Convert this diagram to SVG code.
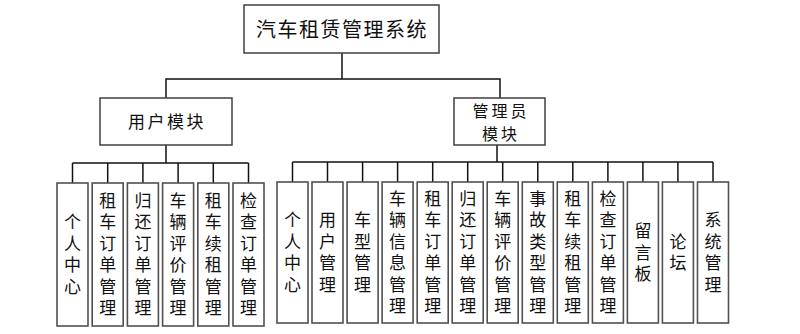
<svg xmlns="http://www.w3.org/2000/svg" width="800" height="334" viewBox="0 0 800 334">
<style>
.box{fill:#fff;stroke:#404040;stroke-width:1.5}
.leaf{fill:#fff;stroke:#505050;stroke-width:1.6}
.t{font-family:"Noto Sans CJK SC","Noto Sans CJK JP",sans-serif;font-size:17px;fill:#111;text-anchor:middle}
.v{writing-mode:vertical-rl;letter-spacing:4.5px}
.title{font-size:20px;letter-spacing:1.5px}
.mod{font-size:17px;letter-spacing:2.5px}
.mod2{font-size:16px;letter-spacing:3px}
.c line,.c polyline{stroke:#111;stroke-width:1.5;fill:none}
</style>
<rect width="800" height="334" fill="#fff"/>
<g class="c" id="connectors">
<polyline points="342,53 342,79"/>
<polyline points="166,98 166,79 500,79 500,98"/>
<line x1="166" y1="145" x2="166" y2="163"/>
<line x1="72.5" y1="163" x2="248.5" y2="163"/>
<line x1="72.5" y1="163" x2="72.5" y2="183"/>
<line x1="107.7" y1="163" x2="107.7" y2="183"/>
<line x1="142.9" y1="163" x2="142.9" y2="183"/>
<line x1="178.1" y1="163" x2="178.1" y2="183"/>
<line x1="213.3" y1="163" x2="213.3" y2="183"/>
<line x1="248.5" y1="163" x2="248.5" y2="183"/>
<line x1="497" y1="145" x2="497" y2="162"/>
<line x1="292.5" y1="162" x2="713" y2="162"/>
<line x1="292.5" y1="162" x2="292.5" y2="182"/>
<line x1="327.5" y1="162" x2="327.5" y2="182"/>
<line x1="362.6" y1="162" x2="362.6" y2="182"/>
<line x1="397.6" y1="162" x2="397.6" y2="182"/>
<line x1="432.7" y1="162" x2="432.7" y2="182"/>
<line x1="467.7" y1="162" x2="467.7" y2="182"/>
<line x1="502.7" y1="162" x2="502.7" y2="182"/>
<line x1="537.8" y1="162" x2="537.8" y2="182"/>
<line x1="572.8" y1="162" x2="572.8" y2="182"/>
<line x1="607.9" y1="162" x2="607.9" y2="182"/>
<line x1="642.9" y1="162" x2="642.9" y2="182"/>
<line x1="677.9" y1="162" x2="677.9" y2="182"/>
<line x1="713" y1="162" x2="713" y2="182"/>
</g>
<g id="root"><rect class="box" x="244" y="5" width="195" height="48"/><text class="t title" x="342" y="37">汽车租赁管理系统</text></g>
<g id="user"><rect class="box" x="100" y="98" width="132" height="47"/><text class="t mod" x="167" y="128">用户模块</text></g>
<g id="admin"><rect class="box" x="454" y="98" width="91" height="47"/><text class="t mod2" x="501" y="116.5">管理员</text><text class="t mod2" x="501" y="140.2">模块</text></g>

<g id="u1"><rect class="leaf" x="57" y="183" width="31" height="143"/><text class="t v" x="72.5" y="256.5">个人中心</text></g>
<g id="u2"><rect class="leaf" x="92.2" y="183" width="31" height="143"/><text class="t v" x="107.7" y="256.5">租车订单管理</text></g>
<g id="u3"><rect class="leaf" x="127.4" y="183" width="31" height="143"/><text class="t v" x="142.9" y="256.5">归还订单管理</text></g>
<g id="u4"><rect class="leaf" x="162.6" y="183" width="31" height="143"/><text class="t v" x="178.1" y="256.5">车辆评价管理</text></g>
<g id="u5"><rect class="leaf" x="197.8" y="183" width="31" height="143"/><text class="t v" x="213.3" y="256.5">租车续租管理</text></g>
<g id="u6"><rect class="leaf" x="233" y="183" width="31" height="143"/><text class="t v" x="248.5" y="256.5">检查订单管理</text></g>

<g id="a1"><rect class="leaf" x="277" y="182" width="31" height="141"/><text class="t v" x="292.5" y="254.5">个人中心</text></g>
<g id="a2"><rect class="leaf" x="312" y="182" width="31" height="141"/><text class="t v" x="327.5" y="254.5">用户管理</text></g>
<g id="a3"><rect class="leaf" x="347.1" y="182" width="31" height="141"/><text class="t v" x="362.6" y="254.5">车型管理</text></g>
<g id="a4"><rect class="leaf" x="382.1" y="182" width="31" height="141"/><text class="t v" x="397.6" y="254.5">车辆信息管理</text></g>
<g id="a5"><rect class="leaf" x="417.2" y="182" width="31" height="141"/><text class="t v" x="432.7" y="254.5">租车订单管理</text></g>
<g id="a6"><rect class="leaf" x="452.2" y="182" width="31" height="141"/><text class="t v" x="467.7" y="254.5">归还订单管理</text></g>
<g id="a7"><rect class="leaf" x="487.2" y="182" width="31" height="141"/><text class="t v" x="502.7" y="254.5">车辆评价管理</text></g>
<g id="a8"><rect class="leaf" x="522.3" y="182" width="31" height="141"/><text class="t v" x="537.8" y="254.5">事故类型管理</text></g>
<g id="a9"><rect class="leaf" x="557.3" y="182" width="31" height="141"/><text class="t v" x="572.8" y="254.5">租车续租管理</text></g>
<g id="a10"><rect class="leaf" x="592.4" y="182" width="31" height="141"/><text class="t v" x="607.9" y="254.5">检查订单管理</text></g>
<g id="a11"><rect class="leaf" x="627.4" y="182" width="31" height="141"/><text class="t v" x="642.9" y="254.5">留言板</text></g>
<g id="a12"><rect class="leaf" x="662.4" y="182" width="31" height="141"/><text class="t v" x="677.9" y="254.5">论坛</text></g>
<g id="a13"><rect class="leaf" x="697.5" y="182" width="31" height="141"/><text class="t v" x="713" y="254.5">系统管理</text></g>
</svg>
